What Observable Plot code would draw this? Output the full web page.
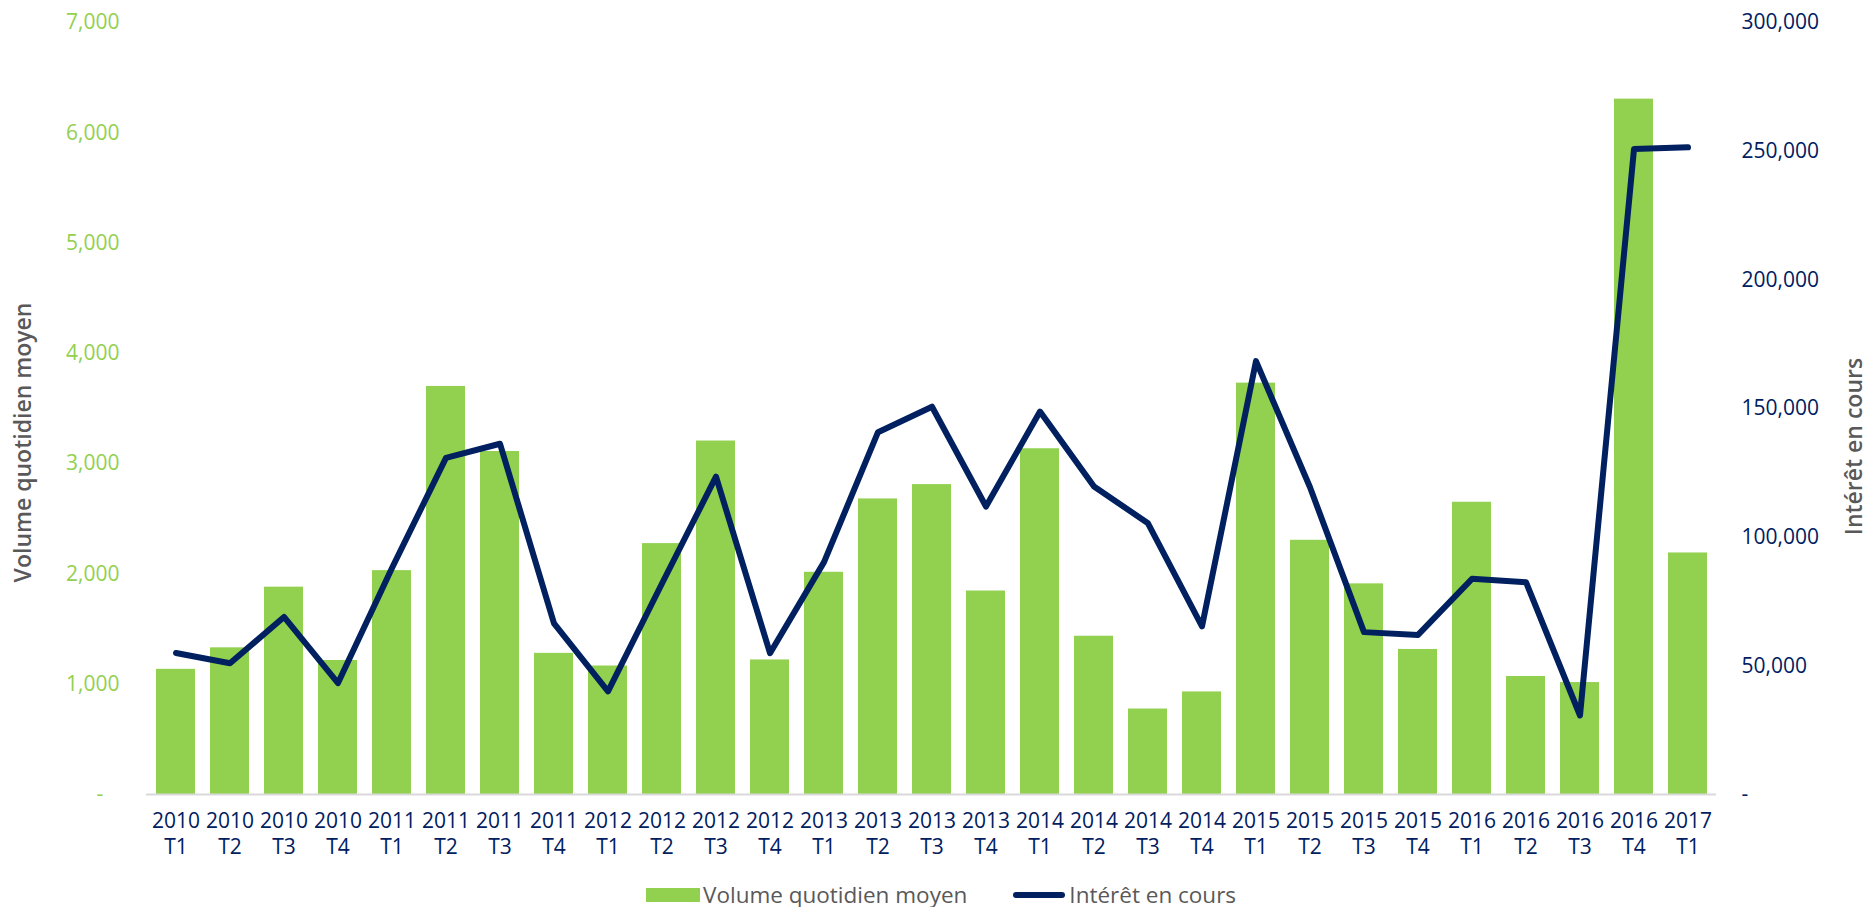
<!DOCTYPE html>
<html>
<head>
<meta charset="utf-8">
<script src="https://cdn.jsdelivr.net/npm/d3@7"></script>
<script src="https://cdn.jsdelivr.net/npm/@observablehq/plot@0.6"></script>
<style>
  html, body { margin: 0; padding: 0; background: #ffffff; }
  #wrap { position: relative; width: 1866px; height: 907px; font-family: "Open Sans", sans-serif; }
  #legend { position: absolute; left: 646px; top: 880px; display: flex; align-items: center; font-size: 22.5px; color: #595959; line-height: 30px; white-space: nowrap; }
  .sw-bar { width: 54px; height: 14px; background: #92D050; margin-right: 3px; }
  .sw-line { width: 52px; height: 6px; border-radius: 3px; background: #002060; margin-right: 4px; margin-left: 46px; }
</style>
</head>
<body>
<div id="wrap">
  <div id="chart"></div>
  <div id="legend">
    <div class="sw-bar"></div><span>Volume quotidien moyen</span>
    <div class="sw-line"></div><span>Intérêt en cours</span>
  </div>
</div>
<script>
const years = ["2010","2010","2010","2010","2011","2011","2011","2011","2012","2012","2012","2012","2013","2013","2013","2013","2014","2014","2014","2014","2015","2015","2015","2015","2016","2016","2016","2016","2017"];
const quarters = ["T1","T2","T3","T4","T1","T2","T3","T4","T1","T2","T3","T4","T1","T2","T3","T4","T1","T2","T3","T4","T1","T2","T3","T4","T1","T2","T3","T4","T1"];
const volume = [1135, 1330, 1880, 1215, 2030, 3700, 3110, 1280, 1165, 2275, 3205, 1220, 2015, 2680, 2810, 1845, 3135, 1435, 775, 930, 3730, 2305, 1910, 1315, 2650, 1070, 1015, 6305, 2190];
const interest = [55000, 51000, 69000, 43300, 88000, 130800, 136300, 66500, 40100, 82000, 123500, 54900, 90300, 140800, 150700, 111900, 148800, 119700, 105400, 65300, 168400, 119400, 63100, 62000, 83800, 82500, 30700, 250800, 251500];
const leftTicks = [0, 1000, 2000, 3000, 4000, 5000, 6000, 7000];
const rightTicks = [0, 50000, 100000, 150000, 200000, 250000, 300000];
const leftMax = 7000, rightMax = 300000;
const k = leftMax / rightMax;

const categories = years.map((y, i) => y + "\n" + quarters[i]);
const data = categories.map((c, i) => ({cat: c, volume: volume[i], interest: interest[i]}));
const fmt = d3.format(",");

const chart = Plot.plot({
  width: 1866,
  height: 864,
  marginTop: 22,
  marginBottom: 70,
  marginLeft: 146,
  marginRight: 150,
  style: {fontFamily: "Open Sans, sans-serif", fontSize: "21px", background: "#ffffff", overflow: "visible"},
  x: {type: "band", domain: categories, paddingInner: 0.28, paddingOuter: 0.14, align: 0.5},
  y: {domain: [0, leftMax]},
  marks: [
    Plot.barY(data, {x: "cat", y: "volume", fill: "#92D050"}),
    Plot.ruleY([0], {stroke: "#D9D9D9", strokeWidth: 2}),
    Plot.lineY(data, {x: "cat", y: d => d.interest * k, stroke: "#002060", strokeWidth: 6, strokeLinejoin: "round", strokeLinecap: "round"}),
    Plot.axisY({anchor: "left", ticks: leftTicks, tickSize: 0, tickPadding: 27, label: null,
      tickFormat: d => d === 0 ? "-\u00a0\u00a0\u00a0" : fmt(d), fill: "#92D050"}),
    Plot.axisY({anchor: "right", ticks: rightTicks.map(v => v * k), tickSize: 0, tickPadding: 25, label: null,
      tickFormat: d => { const v = Math.round(d / k); return v === 0 ? "-" : fmt(v); }, fill: "#002060"}),
    Plot.axisX({anchor: "bottom", tickSize: 0, tickPadding: 16, label: null, lineHeight: 1.2, fill: "#002060"}),
    Plot.text(["Volume quotidien moyen"], {frameAnchor: "left", text: d => d, rotate: -90, dx: -123, dy: 34,
      fill: "#595959", fontSize: 23, fontWeight: 600, textAnchor: "middle"}),
    Plot.text(["Intérêt en cours"], {frameAnchor: "right", text: d => d, rotate: -90, dx: 138, dy: 38,
      fill: "#595959", fontSize: 23, fontWeight: 600, textAnchor: "middle"})
  ]
});
document.getElementById("chart").appendChild(chart);
</script>
</body>
</html>
